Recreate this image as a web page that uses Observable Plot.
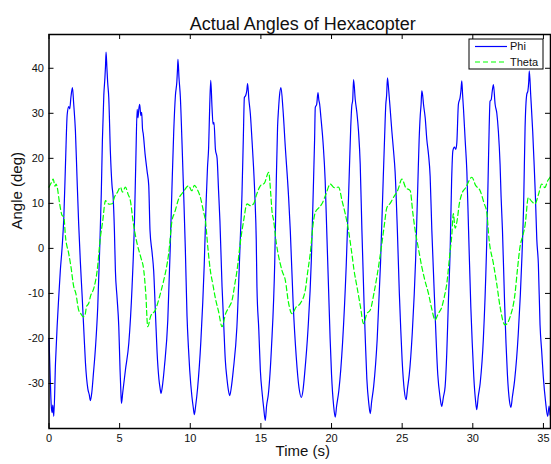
<!DOCTYPE html>
<html><head><meta charset="utf-8">
<script src="https://cdn.jsdelivr.net/npm/d3@7"></script>
<script src="https://cdn.jsdelivr.net/npm/@observablehq/plot@0.6"></script>
<style>body{margin:0;background:#fff;} #chart svg{display:block;}</style>
</head><body><div id="chart"></div><script>
const title = "Actual Angles of Hexacopter";
const xLabel = "Time (s)";
const yLabel = "Angle (deg)";
const seriesNames = ["Phi", "Theta"];
const xTicks = [0, 5, 10, 15, 20, 25, 30, 35];
const yTicks = [-30, -20, -10, 0, 10, 20, 30, 40];

// [time (s), angle (deg)]
const phi = [
[0,-20],[0.08,-28],[0.16,-35],[0.22,-36.5],[0.27,-34.8],[0.34,-37.3],
[0.46,-25.4],[0.58,-17],[0.69,-10.8],[0.8,-5],[0.93,0.3],[1.05,6.9],[1.17,19],[1.29,29.8],[1.4,31.5],[1.47,31],[1.55,33.5],[1.66,35.7],
[1.75,32],[1.87,26.1],[1.98,16],[2.1,5.5],[2.22,-3],[2.35,-10.8],[2.47,-18.5],[2.58,-25.4],[2.75,-31.2],[2.85,-32.5],[2.93,-33.8],
[3.03,-32],[3.15,-27.6],[3.29,-22],[3.45,-13],[3.6,1],[3.7,12],[3.78,24],[3.88,34],[3.96,38],[4.0,40.5],[4.04,43.6],
[4.1,40],[4.15,37],[4.23,33.5],[4.35,21],[4.46,14],[4.54,11.4],[4.63,4],[4.7,-4.9],[4.82,-11],[4.94,-17.4],[5.03,-27],[5.09,-32],[5.13,-34.4],
[5.22,-32],[5.41,-27],[5.65,-21],[5.88,-8.5],[6.05,6],[6.15,20],[6.24,30.9],[6.3,29],[6.36,31],[6.42,32],[6.5,29.5],[6.56,30.2],[6.62,26.5],[6.67,25.5],
[6.8,21],[6.95,17],[7.06,14],[7.15,4],[7.3,-1],[7.41,-5],[7.53,-14],[7.65,-23],[7.78,-29],[7.86,-31],[7.93,-32.2],
[8.05,-30],[8.17,-26.3],[8.41,-15.9],[8.59,1],[8.7,13],[8.83,26],[8.95,34],[9.05,37],[9.1,40],[9.13,42],
[9.2,38],[9.3,33.5],[9.42,23],[9.54,11.4],[9.65,0],[9.77,-15],[9.87,-22],[9.96,-27],[10.12,-33],[10.22,-35.5],[10.29,-36.9],
[10.38,-35],[10.52,-31],[10.75,-20.6],[10.99,-3.5],[11.12,10],[11.22,18],[11.3,22.4],[11.38,32],[11.45,37.3],
[11.54,31.3],[11.61,27.6],[11.68,28],[11.78,22],[11.9,20],[12.0,13],[12.1,6],[12.25,-8.5],[12.37,-17],[12.48,-24.8],[12.6,-29],[12.7,-31.5],[12.79,-32.7],
[12.9,-31],[13.04,-27.2],[13.3,-17.5],[13.54,2],[13.66,12],[13.76,25],[13.83,33.5],[13.93,34],[14.0,35],[14.06,36.6],
[14.15,33],[14.25,30],[14.37,24],[14.48,18],[14.58,11],[14.67,2],[14.72,-8.5],[14.85,-18],[14.96,-27],[15.1,-32.5],[15.2,-35.5],[15.31,-38.2],
[15.4,-35],[15.53,-32.3],[15.75,-21.9],[15.98,-3],[16.09,15],[16.18,27],[16.25,31],[16.32,34],[16.42,35.7],
[16.56,31],[16.73,22.4],[16.96,11.4],[17.08,4],[17.28,-12],[17.5,-24],[17.7,-31],[17.86,-33.1],
[17.98,-31.5],[18.1,-27.7],[18.33,-18.2],[18.57,-2.6],[18.7,12],[18.8,24],[18.85,31.3],[18.95,32],[19.04,34.6],
[19.1,33],[19.16,32],[19.25,29],[19.4,23.5],[19.55,15],[19.66,4],[19.8,-10],[19.9,-20],[20.0,-28],[20.15,-35],[20.26,-37.5],
[20.36,-35],[20.52,-31.5],[20.78,-21],[21.04,-3.8],[21.24,15],[21.36,27],[21.43,31.5],[21.5,33],[21.56,37.5],
[21.68,33],[21.8,30],[21.91,26],[22.03,18.7],[22.15,4],[22.3,-12],[22.4,-21],[22.5,-29],[22.64,-34.5],[22.74,-36.7],
[22.84,-34],[22.98,-30.7],[23.23,-20.3],[23.47,-3.1],[23.66,15.5],[23.76,25],[23.84,31.9],[23.9,34],[23.96,37.9],
[24.05,35],[24.15,31],[24.27,26],[24.38,22],[24.5,17],[24.66,4],[24.8,-10],[24.9,-18],[25.0,-25],[25.15,-31.5],[25.28,-33.6],
[25.38,-31],[25.5,-28.1],[25.72,-18.5],[25.95,-2.7],[26.11,14.4],[26.2,24],[26.28,29.5],[26.34,32],[26.39,35],
[26.45,34],[26.51,32],[26.63,29],[26.75,24],[26.86,21],[26.98,16],[27.1,4],[27.3,-12],[27.52,-28],[27.68,-33],[27.8,-35.1],
[27.92,-33],[28.04,-30.7],[28.16,-23],[28.27,-12],[28.4,0],[28.5,15],[28.59,21.7],[28.7,22.5],[28.8,22],[28.87,23.5],[28.98,32],[29.1,33.5],[29.16,35],[29.22,37.2],
[29.28,34],[29.34,31],[29.46,24],[29.58,17],[29.7,4],[29.86,-13],[29.96,-21],[30.07,-28.5],[30.2,-34],[30.28,-35.8],
[30.38,-33],[30.52,-30],[30.75,-19.9],[30.99,2],[31.08,15],[31.16,27],[31.22,32.7],[31.3,33],[31.38,35],[31.46,36.4],
[31.58,32],[31.7,30],[31.81,26],[31.93,18.7],[32.0,11.7],[32.1,4],[32.25,-12],[32.35,-21],[32.45,-28],[32.6,-34],[32.7,-35.3],
[32.8,-33],[32.96,-29.3],[33.22,-18.9],[33.48,-1.7],[33.6,10],[33.7,26.8],[33.82,34.2],[33.9,35],[33.96,37],[34.0,39.4],
[34.1,34],[34.24,26],[34.33,19.5],[34.43,11.7],[34.53,2],[34.64,-3.4],[34.76,-17],[34.88,-23],[34.99,-28.5],[35.15,-34],[35.3,-37.3],[35.4,-35],[35.47,-37]
];

const theta = [
[0,13.6],[0.15,14.5],[0.3,15.4],[0.42,13.8],[0.5,14.3],[0.58,13.6],[0.75,10],[0.93,7.3],[1.05,7.0],[1.17,2.5],[1.4,-1.2],[1.55,-4],[1.75,-8.5],[1.9,-10],[2.1,-13.7],[2.25,-14.5],[2.42,-15.2],[2.55,-14.8],[2.65,-13],[2.81,-12.2],[2.95,-10.5],[3.17,-8.9],[3.41,-4.9],[3.64,2.5],[3.8,6],
[4.0,10.6],[4.15,10],[4.3,9.8],[4.47,9.9],[4.65,11.5],[4.85,12.5],[5.06,13.6],[5.2,12.5],[5.41,13.6],[5.6,12],[5.76,10.6],[5.95,6],[6.24,1.0],[6.5,-2],[6.71,-4.9],[6.85,-10],[6.99,-17.4],[7.2,-15],[7.53,-13.7],[7.8,-11],[8.12,-7.1],[8.3,-4.5],[8.47,-1.2],[8.71,6.2],[8.9,8],
[9.18,11],[9.5,12.5],[9.89,13.9],[10.1,12.8],[10.3,14],[10.48,13.2],[10.7,11.5],[10.95,8.0],[11.07,6.2],[11.25,0],[11.42,-4.9],[11.6,-8],[11.78,-11.1],[12.0,-14],[12.25,-17.4],[12.5,-14.5],[12.75,-13],[12.96,-11.5],[13.15,-8],[13.31,-4.9],[13.55,1.5],[13.78,6.2],
[14.02,9.9],[14.25,9.5],[14.48,9.9],[14.7,12],[14.96,13.9],[15.25,14.5],[15.55,16.9],[15.7,12],[15.78,8.4],[15.9,6.2],[16.1,1],[16.37,-3.4],[16.5,-5],[16.73,-7.1],[16.95,-12],[17.2,-14.5],[17.5,-13],[17.79,-12.2],[18.14,-9.3],[18.3,-5.5],[18.49,-1.2],[18.73,6.2],[18.85,8.0],
[19.1,9],[19.32,9.9],[19.6,12],[19.91,14.3],[20.2,13.5],[20.5,13.6],[20.75,10.5],[20.97,7.7],[21.2,4],[21.44,-1.2],[21.6,-5],[21.8,-8.5],[22.05,-13],[22.26,-16.7],[22.5,-14.5],[22.74,-13.7],[23.0,-10],[23.21,-6.3],[23.4,-2.5],[23.56,1.0],[23.73,5],[23.92,9.1],
[24.15,10],[24.38,11.3],[24.7,13],[24.98,15.4],[25.25,13.5],[25.57,12.8],[25.75,8],[25.92,4],[26.15,0],[26.39,-4.1],[26.6,-7],[26.86,-10],[27.1,-13.5],[27.33,-15.9],[27.55,-14.5],[27.81,-13],[28.0,-10.5],[28.16,-7.8],[28.35,-2],[28.52,3.2],[28.62,7.7],[28.75,4.5],[28.88,6],
[29.05,10],[29.22,12.1],[29.5,13.5],[29.93,15.8],[30.2,14],[30.52,12.8],[30.8,10],[30.99,8.0],[31.15,2],[31.46,-3.4],[31.7,-8],[31.93,-13],[32.28,-17.0],[32.64,-15.2],[32.99,-10],[33.15,-5],[33.34,0.3],[33.55,3],[33.7,5.1],
[33.93,11.3],[34.15,10.5],[34.4,9.9],[34.65,12],[34.88,14.3],[35.1,13.5],[35.3,15],[35.47,15.8]
];

const W = 551, H = 464;
const mL = 48.5, mR = 1, mT = 34, mB = 36;
const frameW = W - mL - mR, frameH = H - mT - mB, tick = 5;
const font = "'Liberation Sans', Arial, Helvetica, sans-serif";

const plot = Plot.plot({
  width: W, height: H,
  marginLeft: mL, marginRight: mR, marginTop: mT, marginBottom: mB,
  style: {fontFamily: font, background: "#fff", color: "#111", overflow: "visible"},
  x: {domain: [0, 35.5]},
  y: {domain: [-40, 47.5]},
  marks: [
    Plot.line(phi, {x: d => d[0], y: d => d[1], stroke: "#0000ff", strokeWidth: 1.2, curve: "monotone-x"}),
    Plot.line(theta, {x: d => d[0], y: d => d[1], stroke: "#00ff00", strokeWidth: 1.2, strokeDasharray: "5,3", curve: "monotone-x"}),
    Plot.tickX(xTicks, {x: d => d, insetTop: frameH - tick, stroke: "#000"}),
    Plot.tickX(xTicks, {x: d => d, insetBottom: frameH - tick, stroke: "#000"}),
    Plot.tickY(yTicks, {y: d => d, insetRight: frameW - tick, stroke: "#000"}),
    Plot.tickY(yTicks, {y: d => d, insetLeft: frameW - tick, stroke: "#000"}),
    Plot.frame({stroke: "#000", strokeWidth: 1.5}),
    Plot.axisX({ticks: xTicks, tickSize: 0, tickPadding: 6, fontSize: 11, label: null, tickFormat: d => String(d)}),
    Plot.axisY({ticks: yTicks, tickSize: 0, tickPadding: 5, fontSize: 11, label: null, tickFormat: d => String(d)}),
    Plot.text([title], {frameAnchor: "top", dy: -17, dx: 3, fontSize: 18, fill: "#111"}),
    Plot.text([xLabel], {frameAnchor: "bottom", dy: 27, dx: 3, fontSize: 15, fill: "#111"}),
    Plot.text([yLabel], {frameAnchor: "left", dx: -32, dy: -2, rotate: -90, fontSize: 15, fill: "#111"})
  ]
});

// legend box (MATLAB style)
const svg = d3.select(plot);
const lg = svg.append("g").attr("font-family", font).attr("font-size", 11).attr("text-anchor", "start");
lg.append("rect").attr("x", 469).attr("y", 39).attr("width", 74).attr("height", 30)
  .attr("fill", "#fff").attr("stroke", "#000").attr("stroke-width", 1);
const legendColors = ["#0000ff", "#00ff00"];
const legendDash = [null, "5,3"];
seriesNames.forEach((name, i) => {
  const y = 46.5 + i * 15.5;
  lg.append("line").attr("x1", 475).attr("x2", 507).attr("y1", y).attr("y2", y)
    .attr("stroke", legendColors[i]).attr("stroke-width", 1.2).attr("stroke-dasharray", legendDash[i]);
  lg.append("text").attr("x", 510).attr("y", y).attr("dy", "0.35em").attr("text-anchor", "start")
    .attr("fill", "#111").text(name);
});

document.getElementById("chart").appendChild(plot);
</script></body></html>
